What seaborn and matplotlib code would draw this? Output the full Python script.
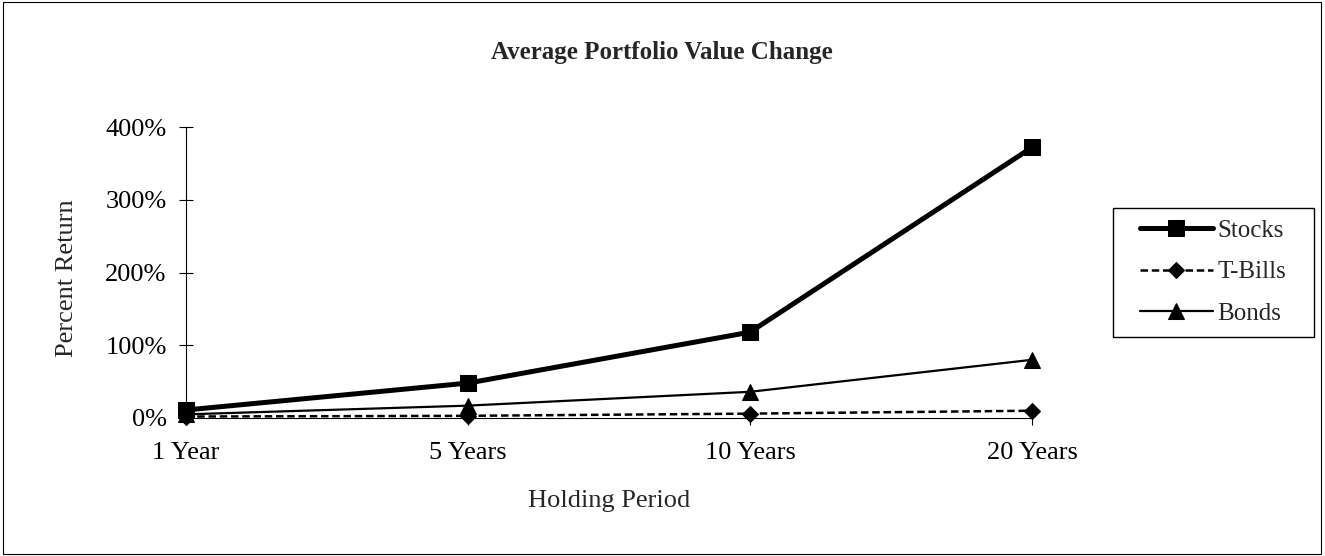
import pandas as pd
import seaborn as sns
import matplotlib as mpl
mpl.use('Agg')
import matplotlib.pyplot as plt
from matplotlib.patches import Rectangle

# datos
periods = ['1 Year', '5 Years', '10 Years', '20 Years']
stocks = [11, 48, 118, 372]
tbills = [2, 3, 6, 10]
bonds = [5, 17, 36, 80]

series_names = ['Stocks', 'T-Bills', 'Bonds']
series_values = [stocks, tbills, bonds]

rows = []
for name, vals in zip(series_names, series_values):
    for p, v in zip(periods, vals):
        rows.append({'period': p, 'value': v, 'serie': name})
df = pd.DataFrame(rows)

sns.set_style('white')
plt.rcParams['font.family'] = ['Liberation Serif', 'DejaVu Serif']

W, H = 1325, 556
fig = plt.figure(figsize=(W / 100, H / 100), dpi=100)
ax = fig.add_axes([186 / W, 1 - 418 / H, (1032 - 186) / W, (418 - 127) / H])

estilos = {
    'Stocks': dict(marker='s', markersize=11, linewidth=3.6, linestyle='-'),
    'T-Bills': dict(marker='D', markersize=8.5, linewidth=1.8, linestyle=(0, (3, 1.5))),
    'Bonds': dict(marker='^', markersize=11, linewidth=1.6, linestyle='-'),
}

for name in series_names:
    sub = df[df['serie'] == name]
    st = estilos[name]
    sns.lineplot(data=sub, x='period', y='value', ax=ax, color='black', label=name,
                 sort=False, marker=st['marker'], markersize=st['markersize'],
                 linewidth=st['linewidth'], linestyle=st['linestyle'],
                 markeredgecolor='black', markerfacecolor='black', clip_on=False, zorder=5)

ax.set_xlim(0, 3)
ax.set_ylim(0, 400)
ax.set_yticks([0, 100, 200, 300, 400])
ax.set_yticklabels(['0%', '100%', '200%', '300%', '400%'])

for s in ['top', 'right']:
    ax.spines[s].set_visible(False)
for s in ['left', 'bottom']:
    ax.spines[s].set_color('black')
    ax.spines[s].set_linewidth(0.8)

ax.tick_params(axis='y', direction='inout', length=10, width=0.8, colors='black',
               labelsize=19, pad=9, left=True)
ax.tick_params(axis='x', direction='out', length=5, width=0.8, colors='black',
               labelsize=19, pad=12, bottom=True)

ax.set_xlabel('Holding Period', fontsize=19)
ax.set_ylabel('Percent Return', fontsize=19)
ax.xaxis.set_label_coords(0.5, -(498 - 418 + 3) / 291)
ax.yaxis.set_label_coords(-0.141, 0.48)
ax.xaxis.label.set_va('center')
ax.yaxis.label.set_va('center')

fig.text(662 / W, 1 - 52 / H, 'Average Portfolio Value Change', ha='center', va='center',
         fontsize=18, fontweight='bold')

# leyenda sin marco, el marco se dibuja aparte para tener mas margen lateral
leg = ax.legend(loc='center left', bbox_to_anchor=(1140 / W, 1 - 272 / H),
                bbox_transform=fig.transFigure, frameon=False,
                fontsize=18, handlelength=2.9, borderpad=0, labelspacing=0.76,
                handletextpad=0.2, borderaxespad=0)
fig.patches.append(Rectangle((1113 / W, 1 - 337 / H), (1314 - 1113) / W, (337 - 208) / H,
                             transform=fig.transFigure, fill=False, edgecolor='black',
                             linewidth=1.0))

# borde de toda la figura
fig.patches.append(Rectangle((0.002, 0.003), 0.995, 0.994, transform=fig.transFigure,
                             fill=False, edgecolor='black', linewidth=0.8))

plt.savefig('out.png', dpi=100)
